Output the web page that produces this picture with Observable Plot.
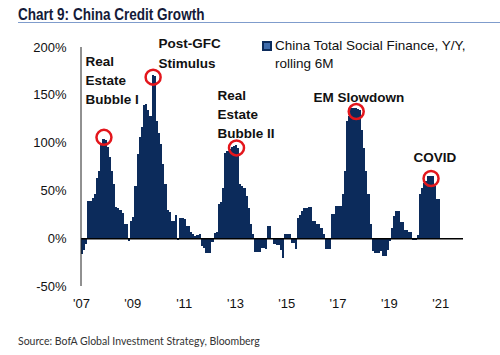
<!DOCTYPE html>
<html><head><meta charset="utf-8">
<script src="https://cdn.jsdelivr.net/npm/d3@7"></script>
<script src="https://cdn.jsdelivr.net/npm/@observablehq/plot@0.6"></script>
<style>
html,body{margin:0;padding:0;background:#fff;}
#wrap{position:relative;width:500px;height:355px;overflow:hidden;font-family:"Liberation Sans",Arial,sans-serif;}
#title{position:absolute;left:18px;top:6px;line-height:16px;font-weight:bold;font-size:16.5px;font-family:"Liberation Sans",Arial,sans-serif;color:#141a38;white-space:nowrap;transform:scaleX(0.82);transform-origin:0 0;}
#rule{position:absolute;left:18px;width:482px;top:22px;height:0;border-top:1.5px solid #7f9ccc;}
#chart{position:absolute;left:0;top:28px;}
#legend{position:absolute;left:262px;top:36.5px;font-size:13.5px;line-height:18px;color:#111;}
#legend .sw{position:absolute;left:0;top:4px;width:6px;height:6px;border:2px solid #0c2b5b;background:#3f6cab;}
#legend .tx{position:absolute;left:13px;top:0;white-space:nowrap;}
#source{position:absolute;left:18px;top:335px;font-size:10.5px;line-height:13px;font-family:Lato,"Liberation Sans",sans-serif;color:#333;white-space:nowrap;}
</style>
</head><body>
<div id="wrap">
  <div id="title"></div>
  <div id="rule"></div>
  <div id="chart"></div>
  <div id="legend"><div class="sw"></div><div class="tx"></div></div>
  <div id="source"></div>
</div>
<script>
const titleText = "Chart 9: China Credit Growth";
const sourceText = "Source:  BofA Global Investment Strategy, Bloomberg";
const seriesName = ["China Total Social Finance, Y/Y,", "rolling 6M"];

// Monthly values (% Y/Y, rolling 6M), Jan 2007 .. Dec 2020
const startYear = 2007;
const y2007 = [-17, -12, -6, 39, 39, 42, 46, 63, 70, 97, 104, 103];
const y2008 = [95, 85, 70, 57, 33, 32, 29, 26, 15, 15, -3, 18];
const y2009 = [22, 55, 88, 106, 116, 139, 140, 134, 128, 171, 170, 123];
const y2010 = [110, 99, 78, 57, 30, 27, 18, 18, 24, -2, 21, 21];
const y2011 = [20, 13, 13, 6, 4, 2, 3, 4, -8, -10, -15, -16];
const y2012 = [-16, -4, 5, 7, 36, 38, 53, 89, 91, 93, 95, 96];
const y2013 = [97, 94, 57, 55, 52, 44, 32, 15, 4, -14, -14, -14];
const y2014 = [-10, -10, -11, 13, 13, 0, -6, -7, -7, -12, -21, 4];
const y2015 = [4, 4, -5, -5, -11, 21, 24, 28, 32, 32, 33, 33];
const y2016 = [18, 18, 15, 15, 11, 4, -11, -11, -11, 25, 25, 34];
const y2017 = [34, 34, 46, 70, 123, 128, 136, 136, 136, 135, 134, 113];
const y2018 = [94, 70, 46, 15, -13, -15, -15, -15, -13, -19, -19, -12];
const y2019 = [-3, 11, 23, 28, 28, 17, 17, 9, 9, 6, 6, -2];
const y2020 = [-2, 3, 46, 53, 58, 60, 65, 65, 65, 55, 41, 41];
const values = [].concat(y2007, y2008, y2009, y2010, y2011, y2012, y2013, y2014, y2015, y2016, y2017, y2018, y2019, y2020);

const yTicks = [-50, 0, 50, 100, 150, 200];
const xTicks = [2007, 2009, 2011, 2013, 2015, 2017, 2019, 2021];
const xTickLabels = ["'07", "'09", "'11", "'13", "'15", "'17", "'19", "'21"];

// Highlighted peaks (year, month 1-12, value at circle centre)
const peakYear  = [2007, 2009, 2013, 2017, 2020];
const peakMonth = [11, 10, 1, 9, 8];
const peakValue = [106, 169, 95, 133, 63];

// Annotations: label, anchor (decimal year of left edge, value at last baseline)
const annLabels = ["Real\nEstate\nBubble I", "Post-GFC\nStimulus", "Real\nEstate\nBubble II", "EM Slowdown", "COVID"];
const annX = [2007.16, 2010.0, 2012.3, 2016.04, 2019.94];
const annY = [141, 179, 105, 143, 80];

document.getElementById("title").textContent = titleText;
document.getElementById("source").textContent = sourceText;
document.querySelector("#legend .tx").innerHTML = seriesName.join("<br>");

const rows = values.map((v, i) => ({x1: startYear + i / 12, x2: startYear + (i + 1) / 12, v}));
const peaks = peakYear.map((y, i) => ({x: y + (peakMonth[i] - 0.5) / 12, v: peakValue[i]}));
const notes = annLabels.map((t, i) => ({t, x: annX[i], y: annY[i]}));

const navy = "#0c2b5b";
const chart = Plot.plot({
  width: 500,
  height: 290,
  marginLeft: 81,
  marginRight: 37,
  marginTop: 19,
  marginBottom: 32,
  style: {fontFamily: "'Liberation Sans', Arial, sans-serif", fontSize: "13px", color: "#111", background: "transparent", overflow: "visible"},
  x: {domain: [2007, 2021.89], ticks: xTicks, tickFormat: d => xTickLabels[xTicks.indexOf(d)], tickSize: 0, tickPadding: 12, label: null},
  y: {domain: [-50, 200], ticks: yTicks, tickFormat: d => d + "%", tickSize: 0, tickPadding: 15, label: null},
  marks: [
    Plot.rectY(rows, {x1: "x1", x2: "x2", y: "v", fill: navy, shapeRendering: "crispEdges"}),
    Plot.ruleY([0], {stroke: "#000", strokeWidth: 1.5}),
    Plot.ruleX([2007], {y1: -50, y2: 200, stroke: "#222", strokeWidth: 1, dx: -0.5}),
    Plot.dot(peaks, {x: "x", y: "v", r: 7.5, stroke: "#e3161c", strokeWidth: 2.5, fill: "none"}),
    Plot.text(notes, {x: "x", y: "y", text: "t", textAnchor: "start", lineAnchor: "bottom", lineHeight: 1.42, fontWeight: "bold", fontSize: 13.5, fill: "#111"})
  ]
});
document.getElementById("chart").appendChild(chart);
</script>
</body></html>
